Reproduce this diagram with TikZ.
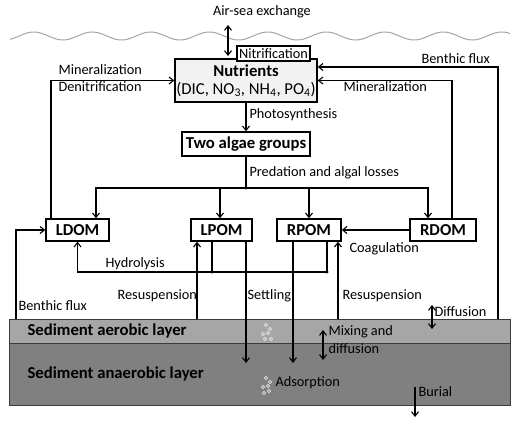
\documentclass[tikz,border=0pt]{standalone}
\usepackage{fontspec}
\setmainfont{Carlito}
\usetikzlibrary{arrows.meta,calc}
\definecolor{aer}{RGB}{166,166,166}
\definecolor{anaer}{RGB}{128,128,128}
\definecolor{nutfill}{RGB}{242,242,242}
\definecolor{wavec}{RGB}{165,165,165}
\definecolor{edgec}{RGB}{60,60,60}
\begin{document}
\begin{tikzpicture}[x=1pt,y=-1pt,
  line width=1.1pt, >={Straight Barb[length=4.5pt,width=7pt]},
  box/.style={draw, line width=1.3pt, inner sep=0pt, font=\fontsize{16.7}{18}\selectfont\bfseries, minimum height=22pt},
  lbl/.style={inner sep=0pt, anchor=west, font=\fontsize{14.3}{17}\selectfont, text height=0.64em, text depth=0pt},
  blbl/.style={inner sep=0pt, anchor=west, font=\fontsize{16.7}{20}\selectfont\bfseries, text height=0.64em, text depth=0pt},
  bub/.style={draw=gray!20, line width=0.7pt}]
\useasboundingbox (0,0) rectangle (520,425);

% water surface
\draw[wavec, line width=1pt, domain=10:510, samples=250, smooth] plot (\x, {36+4*sin(6.15385*(\x-48.4))});

% sediment layers
\filldraw[fill=aer, draw=edgec, line width=1pt] (9,319) rectangle (510,343);
\filldraw[fill=anaer, draw=edgec, line width=1pt] (9,343) rectangle (510,405);
\node[blbl] (aerl) at (27,332) {Sediment aerobic layer};
\node[blbl] (anaerl) at (27,375) {Sediment anaerobic layer};

% bubbles
\foreach \p in {(266,325),(270,329),(263,334),(268,333),(271,339),(265,339)}
  \draw[bub] \p circle (1.7);
\foreach \p in {(266,378),(270,382),(263,387),(268,386),(264,393),(269,391)}
  \draw[bub] \p circle (1.7);

% boxes
\node[box, fill=nutfill, minimum width=142pt, minimum height=43pt, align=center] (nut) at (246,80.5)
  {Nutrients\\{\mdseries (DIC, NO\textsubscript{3}, NH\textsubscript{4}, PO\textsubscript{4})}};
\node[draw, fill=white, line width=1.1pt, inner sep=0pt, minimum width=73pt, minimum height=15pt,
  font=\fontsize{14.3}{17}\selectfont] (nit) at (273.5,53.5) {Nitrification};
\node[box, minimum width=128pt, minimum height=24pt] (alg) at (246,144) {Two algae groups};
\node[box, minimum width=63pt] (ldom) at (77.5,230) {LDOM};
\node[box, minimum width=61pt] (lpom) at (221.5,230) {LPOM};
\node[box, minimum width=64pt] (rpom) at (309,230) {RPOM};
\node[box, minimum width=66pt] (rdom) at (443,230) {RDOM};

% coordinates
\coordinate (airtop) at (228,25);
\coordinate (airbot) at (228,56);
\coordinate (J) at (246,188);
\coordinate (h1) at (212,272);
\coordinate (h2) at (327,272);
\coordinate (bL) at (16,319);
\coordinate (bR) at (498,319);
\coordinate (r1) at (197,319);
\coordinate (r2) at (338,319);
\coordinate (s1) at (246,363);
\coordinate (s2) at (293,363);
\coordinate (d1) at (432,305);
\coordinate (d2) at (432,329);
\coordinate (m1) at (323,330);
\coordinate (m2) at (323,360);
\coordinate (bu1) at (415,387);
\coordinate (bu2) at (415,417);

% labels
\node[lbl, anchor=center] (air) at (262,12) {Air-sea exchange};
\node[lbl] (minL) at (58,71) {Mineralization};
\node[lbl] (denit) at (58,88) {Denitrification};
\node[lbl] (bfR) at (421,60) {Benthic flux};
\node[lbl] (minR) at (343,88) {Mineralization};
\node[lbl] (photo) at (249,115) {Photosynthesis};
\node[lbl] (pred) at (249,173) {Predation and algal losses};
\node[lbl] (coag) at (349,249) {Coagulation};
\node[lbl] (hyd) at (105,264) {Hydrolysis};
\node[lbl] (resL) at (117,296) {Resuspension};
\node[lbl] (bfL) at (18,307) {Benthic flux};
\node[lbl] (sett) at (247,296) {Settling};
\node[lbl] (resR) at (342,296) {Resuspension};
\node[lbl] (diff) at (434,313) {Diffusion};
\node[lbl] (mix1) at (328,332) {Mixing and};
\node[lbl] (mix2) at (328,350) {diffusion};
\node[lbl] (ads) at (275,383) {Adsorption};
\node[lbl] (bur) at (418,393) {Burial};

% connectors
\draw[<->] (airtop) -- (airbot);
\draw[->] (nut.south) -- (alg.north);
\draw (alg.south) -- (J);
\draw[->] (J) -| ([xshift=18.5pt]ldom.north);
\draw[->] (J) -| ([xshift=-1.5pt]lpom.north);
\draw[->] (J) -| (rpom.north);
\draw[->] (J) -| ([xshift=-15pt]rdom.north);
\fill (J) circle (1.6);
\draw[->] ([xshift=-26.5pt]ldom.north) |- (nut.west);
\draw[->] ([xshift=9pt]rdom.north) |- (nut.east);
\draw[->] (bR) |- ([yshift=13.5pt]nut.east);
\draw[->] (rdom.west) -- (rpom.east);
\draw (lpom.south -| h1) -- (h1);
\draw (rpom.south -| h2) -- (h2) -- (h1);
\draw[->] (h1) -| (ldom.south);
\fill (h1) circle (1.6);
\fill (h2) circle (1.6);
\draw[->] (bL) |- (ldom.west);
\draw[->] (r1) -- (r1 |- lpom.south);
\draw[->] (lpom.south -| s1) -- (s1);
\draw[->] (rpom.south -| s2) -- (s2);
\draw[->] (r2) -- (r2 |- rpom.south);
\draw[<->] (d1) -- (d2);
\draw[<->] (m1) -- (m2);
\draw[->] (bu1) -- (bu2);
\end{tikzpicture}
\end{document}
